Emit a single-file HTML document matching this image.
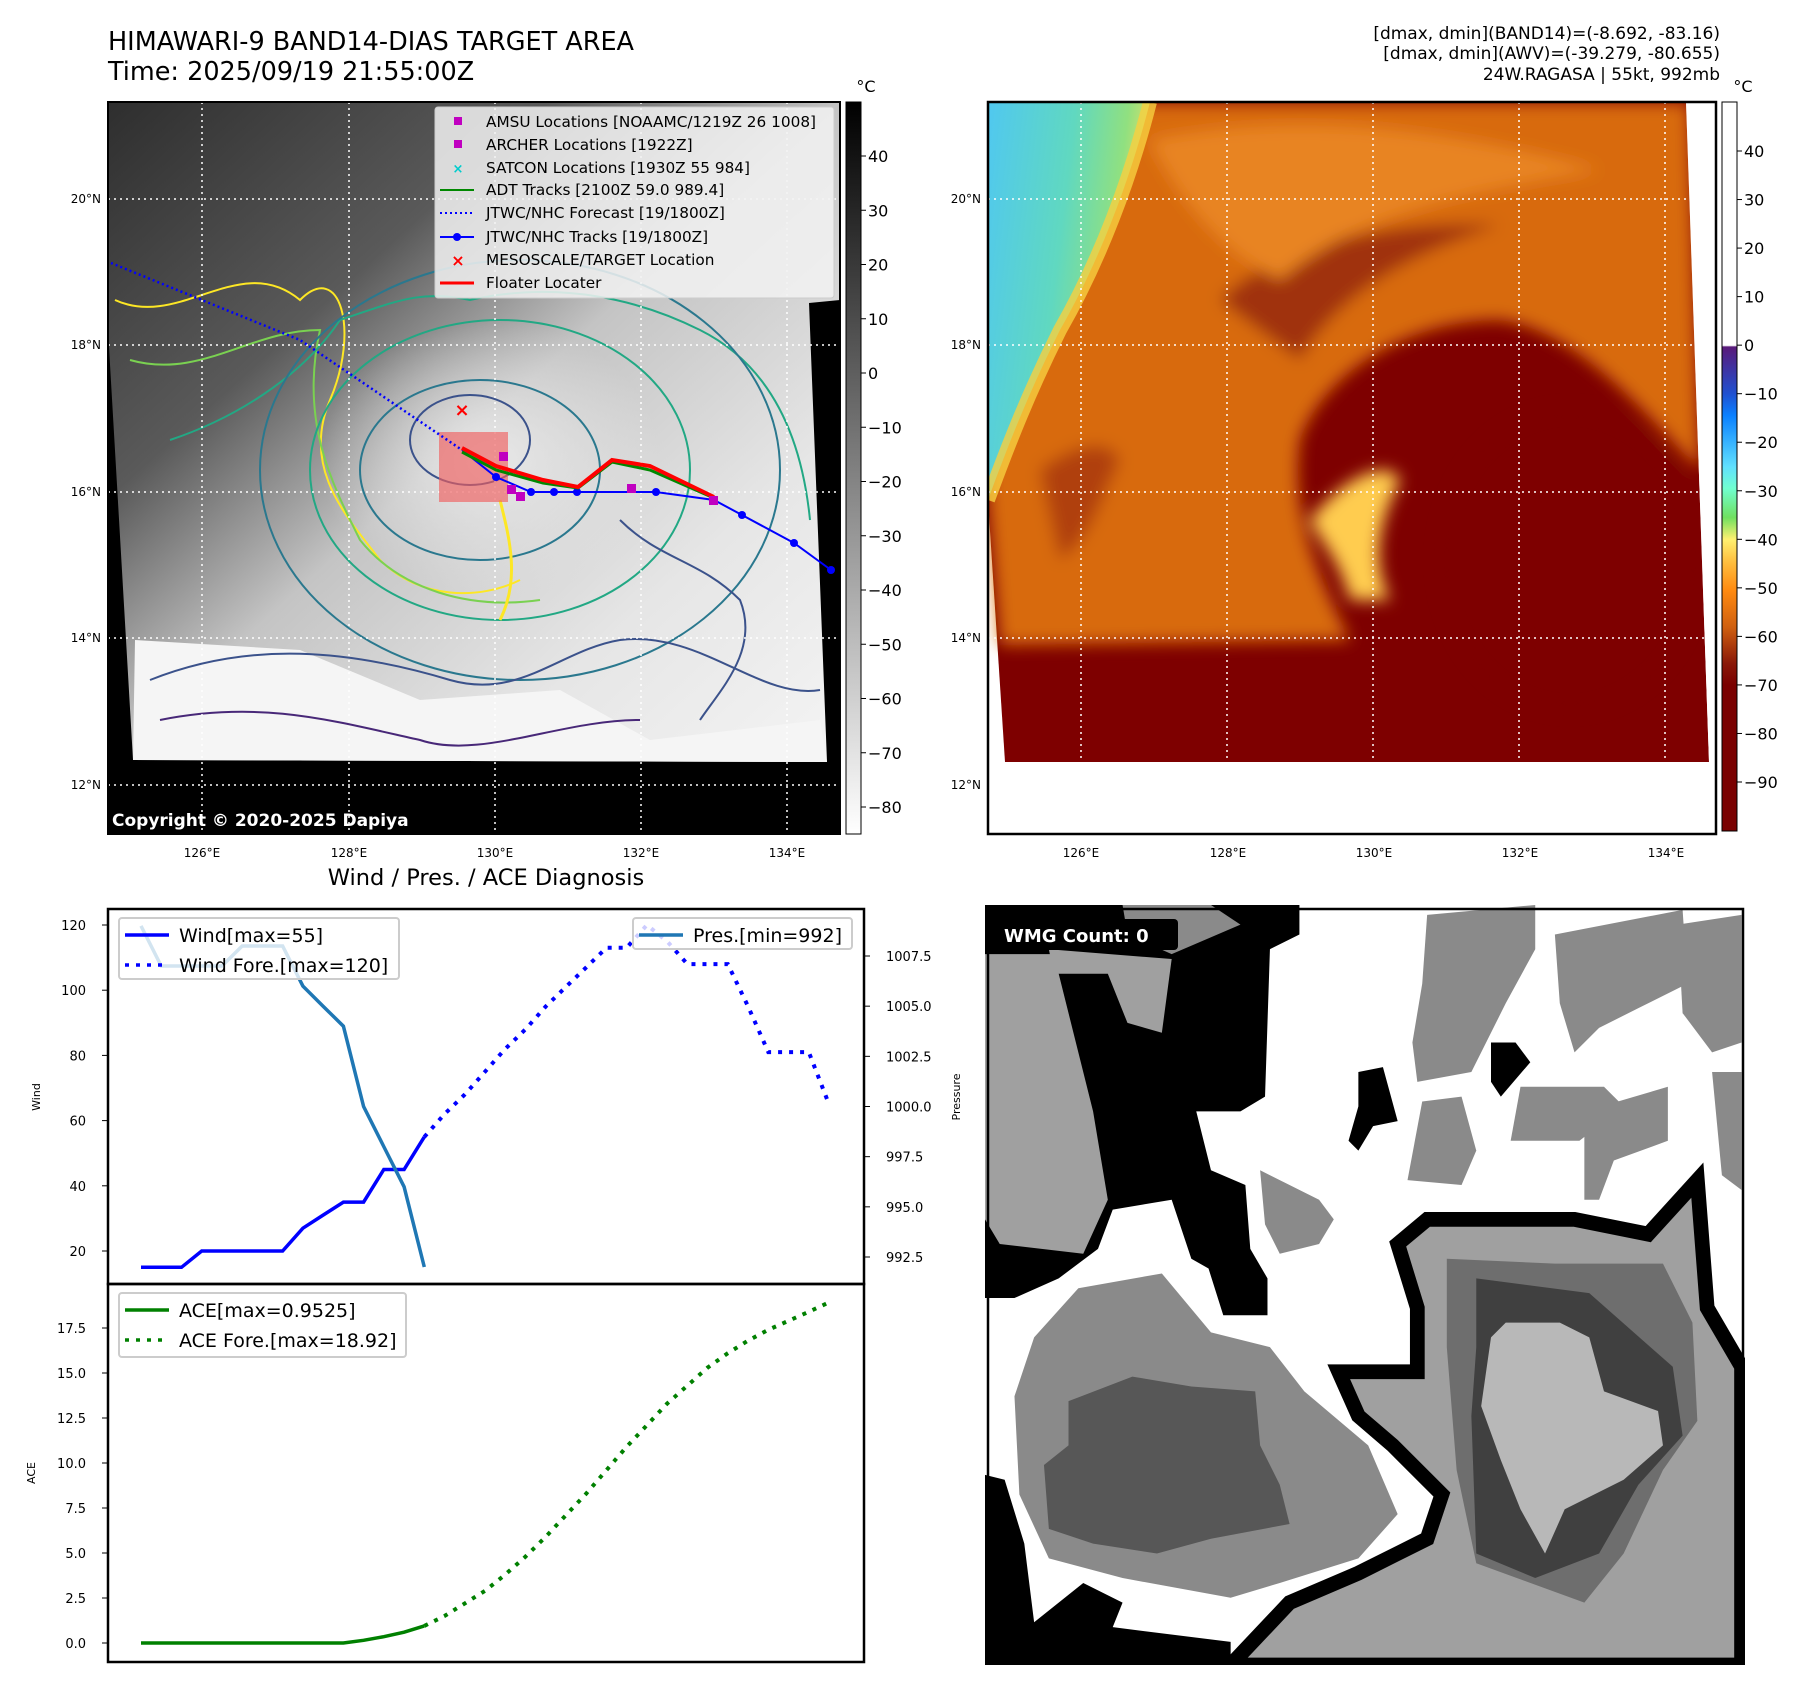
<!DOCTYPE html>
<html><head><meta charset="utf-8"><style>
body{margin:0;background:#fff;}
svg text{font-family:"DejaVu Sans","Liberation Sans",sans-serif;}
</style></head><body>
<svg id="fig" xmlns="http://www.w3.org/2000/svg" width="1801" height="1690" viewBox="0 0 1801 1690">
<defs>
<linearGradient id="gray1" x1="0" y1="0" x2="1" y2="1">
 <stop offset="0" stop-color="#2e2e2e"/><stop offset="0.3" stop-color="#5a5a5a"/><stop offset="0.5" stop-color="#c4c4c4"/><stop offset="0.75" stop-color="#e6e6e6"/><stop offset="1" stop-color="#f4f4f4"/>
</linearGradient>
<radialGradient id="eye1" cx="0.5" cy="0.5" r="0.5"><stop offset="0" stop-color="#e8e8e8"/><stop offset="1" stop-color="#e8e8e8" stop-opacity="0"/></radialGradient>
<linearGradient id="cb1" x1="0" y1="0" x2="0" y2="1"><stop offset="0" stop-color="#000"/><stop offset="1" stop-color="#fff"/></linearGradient>
<linearGradient id="cb2" x1="0" y1="0" x2="0" y2="1">
 <stop offset="0" stop-color="#fff"/><stop offset="0.334" stop-color="#fff"/><stop offset="0.336" stop-color="#5a1a7a"/>
 <stop offset="0.40" stop-color="#2050d0"/><stop offset="0.43" stop-color="#0a80ff"/><stop offset="0.50" stop-color="#60e0ff"/>
 <stop offset="0.53" stop-color="#70ffd0"/><stop offset="0.57" stop-color="#70e060"/><stop offset="0.60" stop-color="#fff070"/>
 <stop offset="0.63" stop-color="#ffc040"/><stop offset="0.67" stop-color="#ff8a10"/><stop offset="0.72" stop-color="#d06010"/>
 <stop offset="0.77" stop-color="#8a1808"/><stop offset="0.80" stop-color="#7a0000"/><stop offset="1" stop-color="#7a0000"/>
</linearGradient>
<linearGradient id="cold2" x1="0" y1="0" x2="1" y2="0.3">
 <stop offset="0" stop-color="#50c8f0"/><stop offset="0.5" stop-color="#60d8c0"/><stop offset="0.8" stop-color="#90e080"/><stop offset="1" stop-color="#f0e060"/>
</linearGradient>
<filter id="blur6"><feGaussianBlur stdDeviation="8"/></filter>
<clipPath id="clipA"><rect x="108" y="102" width="732" height="732"/></clipPath>
<clipPath id="clipB"><rect x="988" y="102" width="728" height="732"/></clipPath>
</defs>

<text x="108" y="50" font-size="25.5">HIMAWARI-9 BAND14-DIAS TARGET AREA</text>
<text x="108" y="80" font-size="25.5">Time: 2025/09/19 21:55:00Z</text>
<g font-size="17" text-anchor="end">
<text x="1720" y="39">[dmax, dmin](BAND14)=(-8.692, -83.16)</text>
<text x="1720" y="59">[dmax, dmin](AWV)=(-39.279, -80.655)</text>
<text x="1720" y="80">24W.RAGASA | 55kt, 992mb</text>
</g>

<!-- Map 1 -->
<g clip-path="url(#clipA)">
<rect x="108" y="102" width="732" height="732" fill="#000"/>
<polygon points="108,102 840,102 840,300 809,303 827,762 133,760 108,330" fill="url(#gray1)"/>
<polygon points="135,640 300,650 420,700 560,690 650,740 820,720 827,762 133,760" fill="#f5f5f5"/>
<ellipse cx="490" cy="460" rx="170" ry="140" fill="url(#eye1)"/>
<g fill="none" stroke-width="2">
<path d="M115,300 C180,330 240,250 300,300 C340,260 360,330 330,400 C300,470 350,520 380,560 C420,600 480,600 520,580" stroke="#fde725"/>
<path d="M130,360 C200,380 250,330 320,330 C300,420 330,480 360,540 C400,590 470,610 540,600" stroke="#7ad151"/>
<path d="M170,440 C230,420 300,380 340,320 C400,300 420,290 470,300 C560,280 640,300 700,330 C760,360 800,420 810,520" stroke="#22a884"/>
<ellipse cx="480" cy="470" rx="120" ry="90" stroke="#2a788e"/>
<ellipse cx="500" cy="470" rx="190" ry="150" stroke="#22a884"/>
<ellipse cx="520" cy="470" rx="260" ry="210" stroke="#2a788e"/>
<ellipse cx="470" cy="440" rx="60" ry="45" stroke="#3b528b"/>
<path d="M150,680 C250,640 350,650 450,680 C520,700 560,650 620,640 C700,630 760,700 820,690" stroke="#3b528b"/>
<path d="M160,720 C260,700 330,720 420,740 C480,760 560,720 640,720" stroke="#482878"/>
<path d="M620,520 C660,560 700,560 740,600 C760,650 720,690 700,720" stroke="#3b528b"/>
<path d="M500,500 C510,540 520,580 500,620" stroke="#fde725" stroke-width="3"/>
</g>
<g stroke="#fff" stroke-width="1.5" stroke-dasharray="2,4">
<line x1="202" y1="102" x2="202" y2="834"/><line x1="349" y1="102" x2="349" y2="834"/><line x1="495" y1="102" x2="495" y2="834"/><line x1="641" y1="102" x2="641" y2="834"/><line x1="787" y1="102" x2="787" y2="834"/>
<line x1="108" y1="199" x2="840" y2="199"/><line x1="108" y1="345" x2="840" y2="345"/><line x1="108" y1="492" x2="840" y2="492"/><line x1="108" y1="638" x2="840" y2="638"/><line x1="108" y1="785" x2="840" y2="785"/>
</g>
<rect x="439" y="432" width="69" height="70" fill="#f06060" fill-opacity="0.65"/>
<polyline points="111,263 300,340 462,450" fill="none" stroke="#00f" stroke-width="2.5" stroke-dasharray="2,3"/>
<polyline points="462,450 496,477 531,492 554,492 577,492 656,492 714,500 742,515 794,543 831,570" fill="none" stroke="#00f" stroke-width="2"/>
<g fill="#00f"><circle cx="496" cy="477" r="4"/><circle cx="531" cy="492" r="4"/><circle cx="554" cy="492" r="4"/><circle cx="577" cy="492" r="4"/><circle cx="656" cy="492" r="4"/><circle cx="742" cy="515" r="4"/><circle cx="794" cy="543" r="4"/><circle cx="831" cy="570" r="4"/></g>
<polyline points="462,452 496,470 543,483 578,488 612,462 650,470 714,498" fill="none" stroke="#080" stroke-width="3"/>
<polyline points="462,448 496,466 543,480 578,487 612,460 650,466 714,497" fill="none" stroke="#f00" stroke-width="4"/>
<g fill="#c000c0"><rect x="499" y="452" width="9" height="9"/><rect x="507" y="485" width="9" height="9"/><rect x="516" y="492" width="9" height="9"/><rect x="627" y="484" width="9" height="9"/><rect x="709" y="496" width="9" height="9"/></g>
<text x="462" y="416" font-size="18" fill="#f00" text-anchor="middle" font-weight="bold">×</text>
<g>
<rect x="435" y="107" width="399" height="191" fill="#f2f2f2" fill-opacity="0.85" stroke="#ccc" rx="3"/>
<g font-size="15.3">
<rect x="454" y="117" width="8" height="8" fill="#c000c0"/><text x="486" y="127">AMSU Locations [NOAAMC/1219Z 26 1008]</text>
<rect x="454" y="140" width="8" height="8" fill="#c000c0"/><text x="486" y="150">ARCHER Locations [1922Z]</text>
<text x="458" y="173" fill="#0cc" font-size="13" text-anchor="middle" font-weight="bold">×</text><text x="486" y="173">SATCON Locations [1930Z 55 984]</text>
<line x1="440" y1="190" x2="474" y2="190" stroke="#080" stroke-width="2"/><text x="486" y="195">ADT Tracks [2100Z 59.0 989.4]</text>
<line x1="440" y1="213" x2="474" y2="213" stroke="#00f" stroke-width="2" stroke-dasharray="2,3"/><text x="486" y="218">JTWC/NHC Forecast [19/1800Z]</text>
<line x1="440" y1="237" x2="474" y2="237" stroke="#00f" stroke-width="2"/><circle cx="457" cy="237" r="4" fill="#00f"/><text x="486" y="242">JTWC/NHC Tracks [19/1800Z]</text>
<text x="458" y="266" fill="#f00" font-size="16" text-anchor="middle" font-weight="bold">×</text><text x="486" y="265">MESOSCALE/TARGET Location</text>
<line x1="440" y1="283" x2="474" y2="283" stroke="#f00" stroke-width="3"/><text x="486" y="288">Floater Locater</text>
</g></g>
<text x="112" y="826" font-size="17" font-weight="bold" fill="#fff">Copyright © 2020-2025 Dapiya</text>
</g>
<rect x="108" y="102" width="732" height="732" fill="none" stroke="#000" stroke-width="2"/>
<rect x="846" y="102" width="15" height="732" fill="url(#cb1)" stroke="#000"/>

<!-- Map 2 -->
<g clip-path="url(#clipB)">
<rect x="988" y="102" width="728" height="732" fill="#fff"/>
<polygon points="988,102 1686,102 1709,762 1005,762 988,500" fill="#7e0000"/>
<g filter="url(#blur6)">
<path d="M988,102 L1690,102 L1700,470 C1650,420 1580,330 1500,320 C1400,320 1320,380 1300,440 C1290,520 1320,580 1350,640 L1000,645 L988,500 Z" fill="#d86a10"/>
<path d="M1220,300 C1280,240 1400,220 1500,225 C1420,250 1340,290 1300,360 Z" fill="#a03008"/>
<path d="M1150,140 C1300,110 1450,130 1600,170 C1480,190 1360,210 1280,280 C1220,250 1180,200 1150,140 Z" fill="#e88420"/>
<path d="M1040,470 C1080,440 1110,440 1120,460 C1100,500 1090,540 1060,560 Z" fill="#b04008"/>
<ellipse cx="1570" cy="560" rx="130" ry="150" fill="#7e0000"/>
<path d="M1310,520 C1350,470 1390,460 1400,480 C1380,520 1370,560 1390,600 L1350,600 C1340,560 1320,540 1310,520Z" fill="#ffcc50"/>
</g>
<path d="M988,102 L1150,102 C1130,180 1100,260 1060,330 C1030,390 1010,440 988,500 Z" fill="url(#cold2)"/>
<path d="M1150,102 C1130,180 1100,260 1060,330 C1030,390 1010,440 988,500" fill="none" stroke="#f8d040" stroke-width="14" opacity="0.8"/>
<polygon points="1686,102 1716,102 1716,834 1709,834 1709,762" fill="#fff"/>
<g stroke="#fff" stroke-width="1.5" stroke-dasharray="2,4">
<line x1="1081" y1="102" x2="1081" y2="834"/><line x1="1227" y1="102" x2="1227" y2="834"/><line x1="1373" y1="102" x2="1373" y2="834"/><line x1="1519" y1="102" x2="1519" y2="834"/><line x1="1665" y1="102" x2="1665" y2="834"/>
<line x1="988" y1="199" x2="1716" y2="199"/><line x1="988" y1="345" x2="1716" y2="345"/><line x1="988" y1="492" x2="1716" y2="492"/><line x1="988" y1="638" x2="1716" y2="638"/><line x1="988" y1="785" x2="1716" y2="785"/>
</g>
</g>
<rect x="988" y="102" width="728" height="732" fill="none" stroke="#000" stroke-width="2.5"/>
<rect x="1722" y="102" width="15" height="729" fill="url(#cb2)" stroke="#000"/>
<g id="mapticks"></g>

<!-- Diagnosis charts -->
<text x="486" y="885" font-size="22.5" text-anchor="middle">Wind / Pres. / ACE Diagnosis</text>
<g id="chart"></g>

<!-- WMG panel -->
<svg x="985" y="905" width="760" height="760" viewBox="0 0 1547 1547" preserveAspectRatio="none">
<rect x="0" y="0" width="1547" height="1547" fill="#fff"/>
<polygon points="0,0 640,0 640,60 580,90 570,390 520,420 430,420 460,540 530,570 540,700 575,760 575,835 485,835 455,740 420,720 380,600 260,620 230,700 150,760 60,800 0,800" fill="#000"/>
<polygon points="0,100 140,100 180,260 220,420 250,600 200,710 30,690 0,640" fill="#a0a0a0"/>
<polygon points="130,90 380,110 360,260 290,240 250,140 140,140" fill="#a0a0a0"/>
<polygon points="280,0 460,0 520,40 380,100 290,60" fill="#8a8a8a"/>
<polygon points="60,1000 100,880 190,780 360,750 460,870 580,900 650,990 780,1100 840,1240 760,1330 600,1380 500,1410 280,1370 130,1330 70,1200" fill="#8a8a8a"/>
<polygon points="170,1010 300,960 420,980 550,990 560,1100 600,1180 620,1260 460,1290 350,1320 220,1300 130,1270 120,1140 170,1100" fill="#575757"/>
<polygon points="840,690 900,640 1200,640 1350,670 1450,560 1470,820 1540,940 1540,1547 500,1547 620,1420 760,1360 900,1290 930,1200 830,1100 760,1040 720,950 880,950 880,820" fill="#a0a0a0" stroke="#000" stroke-width="30"/>
<polygon points="940,720 1160,730 1380,730 1440,850 1450,1050 1380,1150 1300,1320 1220,1420 1000,1340 960,1150 940,900" fill="#6e6e6e"/>
<polygon points="1000,760 1230,790 1400,940 1420,1080 1330,1180 1250,1320 1120,1370 1000,1320 990,1040 1000,900" fill="#404040"/>
<polygon points="1060,850 1170,850 1230,880 1260,990 1370,1030 1380,1100 1300,1170 1180,1230 1140,1320 1090,1230 1050,1130 1010,1020 1030,880" fill="#b8b8b8"/>
<polygon points="900,20 1120,0 1120,90 1060,200 990,340 880,360 870,280 890,160" fill="#8a8a8a"/>
<polygon points="1160,60 1420,10 1430,160 1330,210 1250,250 1200,300 1170,200" fill="#8a8a8a"/>
<polygon points="1410,40 1540,20 1540,280 1480,300 1420,220" fill="#8a8a8a"/>
<polygon points="1090,370 1260,370 1300,410 1210,480 1070,480" fill="#8a8a8a"/>
<polygon points="890,400 970,390 1000,500 970,570 860,560" fill="#8a8a8a"/>
<polygon points="1220,420 1390,370 1390,480 1280,520 1250,600 1220,600" fill="#8a8a8a"/>
<polygon points="1480,340 1540,340 1540,580 1500,550" fill="#8a8a8a"/>
<polygon points="560,540 680,600 710,640 680,690 600,710 570,650" fill="#8a8a8a"/>
<polygon points="760,340 810,330 840,440 790,450 760,500 740,480 760,410" fill="#000"/>
<polygon points="1030,280 1080,280 1110,320 1050,390 1030,360" fill="#000"/>
<polygon points="0,1160 40,1170 80,1300 100,1460 200,1380 280,1420 260,1470 500,1500 500,1547 0,1547" fill="#000"/>
</svg>
<rect x="988" y="909" width="755" height="753" fill="none" stroke="#000" stroke-width="2.5"/>
<rect x="995" y="919" width="183" height="31" rx="4" fill="#000"/>
<text x="1004" y="942" font-size="18" font-weight="bold" fill="#fff">WMG Count: 0</text>
</svg>

<script>
// ---- chart data ----
const windObs = [15,15,15,20,20,20,20,20,27,31,35,35,45,45,55];
const windFore = [55,62,68,75,82,88,95,101,107,113,113,120,115,108,108,108,95,81,81,81,65];
const presObs = [1009,1007,1007,1007,1007,1008,1008,1008,1006,1005,1004,1000,998,996,992];
const aceObs = [0,0,0,0,0,0,0,0,0,0,0,0.15,0.35,0.6,0.95];
const aceFore = [0.95,1.5,2.2,2.9,3.8,4.8,5.9,7.1,8.3,9.6,10.9,12.1,13.3,14.3,15.3,16.1,16.8,17.4,17.9,18.4,18.92];
const windTicks = [20,40,60,80,100,120];
const presTicks = [992.5,995.0,997.5,1000.0,1002.5,1005.0,1007.5];
const aceTicks = [0.0,2.5,5.0,7.5,10.0,12.5,15.0,17.5];
const latTicks = ["20°N","18°N","16°N","14°N","12°N"];
const lonTicks = ["126°E","128°E","130°E","132°E","134°E"];
const cb1Ticks = [40,30,20,10,0,-10,-20,-30,-40,-50,-60,-70,-80];
const cb2Ticks = [40,30,20,10,0,-10,-20,-30,-40,-50,-60,-70,-80,-90];

const NS='http://www.w3.org/2000/svg';
function mk(tag, attrs, parent, txt){const e=document.createElementNS(NS,tag);for(const k in attrs)e.setAttribute(k,attrs[k]);if(txt!==undefined)e.textContent=txt;parent.appendChild(e);return e;}
const X = i => 141 + (829-141)*i/34;
const Yw = v => 1251 - (v-20)*(1251-925)/100;
const Yp = v => 1257 - (v-992.5)*(1257-956)/15;
const Ya = v => 1643 - v*(1643-1328)/17.5;

const ch=document.getElementById('chart');
let e=mk('rect',{x:108,y:909,width:756,height:375,fill:'none',stroke:'#000','stroke-width':2.5},ch);


e=mk('rect',{x:108,y:1284,width:756,height:378,fill:'none',stroke:'#000','stroke-width':2.5},ch);



function ticksLeft(arr, yf, fmt, name){
  arr.forEach(v=>{const y=yf(v);
    mk('line',{x1:102,y1:y,x2:108,y2:y,stroke:'#000'},ch);
    const t=mk('text',{x:86,y:y+5,'font-size':13,'text-anchor':'end'},ch,fmt(v));
    
    
  });
}
ticksLeft(windTicks,Yw,v=>String(v),'wind-tick-label');
ticksLeft(aceTicks,Ya,v=>v.toFixed(1),'ace-tick-label');
presTicks.forEach(v=>{const y=Yp(v);
  mk('line',{x1:864,y1:y,x2:870,y2:y,stroke:'#000'},ch);
  const t=mk('text',{x:886,y:y+5,'font-size':13},ch,v.toFixed(1));
  
  
});
e=mk('text',{x:40,y:1097,'font-size':11,'text-anchor':'middle',transform:'rotate(-90 40 1097)'},ch,'Wind');


e=mk('text',{x:960,y:1097,'font-size':11,'text-anchor':'middle',transform:'rotate(-90 960 1097)'},ch,'Pressure');


e=mk('text',{x:35,y:1473,'font-size':11,'text-anchor':'middle',transform:'rotate(-90 35 1473)'},ch,'ACE');



function pts(arr, off, yf){return arr.map((v,i)=>X(i+off).toFixed(1)+','+yf(v).toFixed(1)).join(' ');}
e=mk('polyline',{points:pts(windFore,14,Yw),fill:'none',stroke:'#00f','stroke-width':4,'stroke-dasharray':'4,7'},ch);


e=mk('polyline',{points:pts(windObs,0,Yw),fill:'none',stroke:'#00f','stroke-width':3.5},ch);


e=mk('polyline',{points:pts(presObs,0,Yp),fill:'none',stroke:'#1f77b4','stroke-width':3.5},ch);


e=mk('polyline',{points:pts(aceFore,14,Ya),fill:'none',stroke:'#008000','stroke-width':4,'stroke-dasharray':'4,7'},ch);


e=mk('polyline',{points:pts(aceObs,0,Ya),fill:'none',stroke:'#008000','stroke-width':3.5},ch);



function legend(x,y,w,h,items,name){
  const g=mk('g',{},ch);
  
  
  mk('rect',{x:x,y:y,width:w,height:h,rx:3,fill:'#fff','fill-opacity':0.8,stroke:'#ccc','stroke-width':2},g);
  items.forEach((it,k)=>{const yy=y+17+k*30;
    mk('line',{x1:x+6,y1:yy,x2:x+50,y2:yy,stroke:it[1],'stroke-width':3.5,'stroke-dasharray':it[2]?'4,7':'none'},g);
    mk('text',{x:x+60,y:yy+7,'font-size':19},g,it[0]);
  });
}
legend(119,918,280,61,[['Wind[max=55]','#00f',0],['Wind Fore.[max=120]','#00f',1]],'wind-legend');
legend(633,918,219,31,[['Pres.[min=992]','#1f77b4',0]],'pressure-legend');
legend(119,1293,287,64,[['ACE[max=0.9525]','#008000',0],['ACE Fore.[max=18.92]','#008000',1]],'ace-legend');

const mt=document.getElementById('mapticks');
const latY=[199,345,492,638,785], lonX1=[202,349,495,641,787];
latTicks.forEach((s,i)=>{
  [101,981].forEach(xx=>{const t=mk('text',{x:xx,y:latY[i]+4,'font-size':12,'text-anchor':'end'},mt,s);
    
    });
});
lonTicks.forEach((s,i)=>{
  [0,879].forEach(dx=>{const t=mk('text',{x:lonX1[i]+dx,y:857,'font-size':12,'text-anchor':'middle'},mt,s);
    
    });
});
cb1Ticks.forEach(v=>{const y=156+(40-v)*(807-156)/120;
  mk('line',{x1:861,y1:y,x2:866,y2:y,stroke:'#000'},mt);
  const t=mk('text',{x:868,y:y+6,'font-size':16},mt,v<0?'\u2212'+(-v):String(v));
  
  });
cb2Ticks.forEach(v=>{const y=151+(40-v)*(782-151)/130;
  mk('line',{x1:1737,y1:y,x2:1742,y2:y,stroke:'#000'},mt);
  const t=mk('text',{x:1744,y:y+6,'font-size':16},mt,v<0?'\u2212'+(-v):String(v));
  
  });
[[866,92],[1743,92]].forEach(p=>{const t=mk('text',{x:p[0],y:p[1],'font-size':16,'text-anchor':'middle'},mt,'°C');
  
  });
</script>
</body></html>
